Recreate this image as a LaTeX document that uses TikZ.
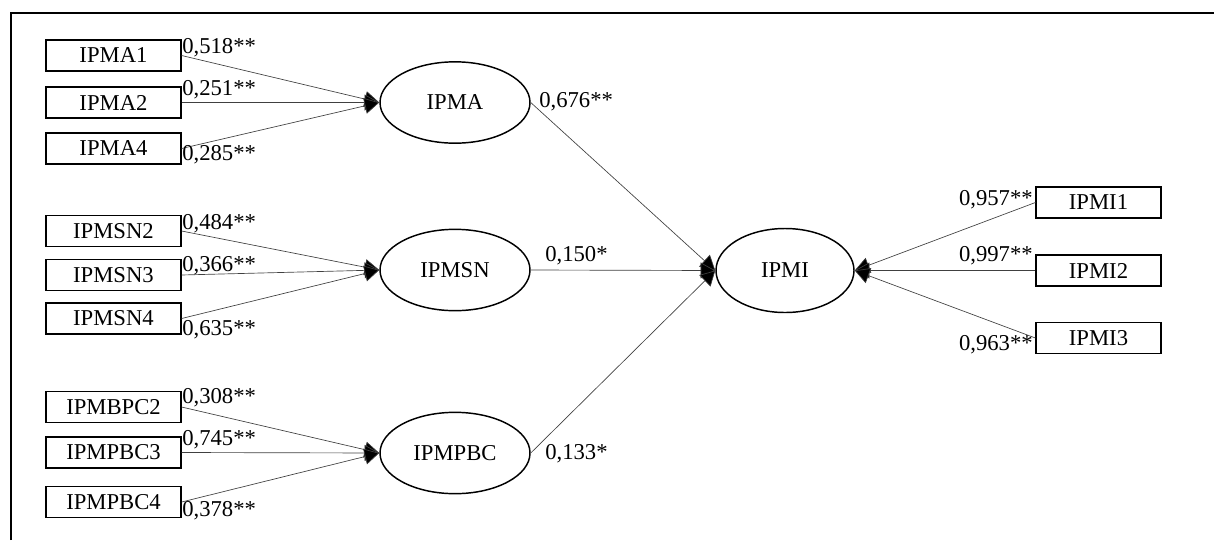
\documentclass[tikz,border=0pt]{standalone}
\usepackage{fontspec}
\setmainfont{Liberation Serif}
\usetikzlibrary{shapes.geometric,arrows.meta}
\begin{document}
\begin{tikzpicture}[x=0.75pt,y=-0.75pt,
  every node/.style={font=\fontsize{17}{20}\selectfont},
  ind/.style={draw,line width=0.9pt,rectangle,minimum width=101.25pt,minimum height=23.25pt,inner sep=0pt},
  indr/.style={draw,line width=0.9pt,rectangle,minimum width=93.75pt,minimum height=23.25pt,inner sep=0pt},
  lat/.style={draw,line width=1.1pt,ellipse,minimum width=112.5pt,minimum height=61pt,inner sep=0pt},
  latr/.style={draw,line width=1.1pt,ellipse,minimum width=103.5pt,minimum height=63pt,inner sep=0pt},
  conn/.style={draw=black!75,line width=0.5pt,-{Triangle[length=11pt,width=12pt,fill=black]}},
  lbl/.style={inner sep=0pt,anchor=west},
  lblr/.style={inner sep=0pt,anchor=east}]
\useasboundingbox (0,0) rectangle (1214,540);
\draw[line width=1.5pt] (11,540) -- (11,12.5) -- (1214,12.5);
% indicators left
\node[ind] (a1) at (113.5,55.5) {IPMA1};
\node[ind] (a2) at (113.5,102.5) {IPMA2};
\node[ind] (a4) at (113.5,148.5) {IPMA4};
\node[ind] (s2) at (113.5,231) {IPMSN2};
\node[ind] (s3) at (113.5,275) {IPMSN3};
\node[ind] (s4) at (113.5,318.5) {IPMSN4};
\node[ind] (p2) at (113.5,407) {IPMBPC2};
\node[ind] (p3) at (113.5,452.5) {IPMPBC3};
\node[ind] (p4) at (113.5,502) {IPMPBC4};
% latent
\node[lat] (ipma) at (455,102.5) {IPMA};
\node[lat] (ipmsn) at (455,270) {IPMSN};
\node[lat] (ipmpbc) at (455,453) {IPMPBC};
\node[latr] (ipmi) at (785,270.5) {IPMI};
% indicators right
\node[indr] (i1) at (1098.5,202.5) {IPMI1};
\node[indr] (i2) at (1098.5,270.5) {IPMI2};
\node[indr] (i3) at (1098.5,338) {IPMI3};
% connectors
\foreach \s in {a1,a2,a4} \draw[conn] (\s.east) -- (ipma.west);
\foreach \s in {s2,s3,s4} \draw[conn] (\s.east) -- (ipmsn.west);
\foreach \s in {p2,p3,p4} \draw[conn] (\s.east) -- (ipmpbc.west);
\foreach \s in {i1,i2,i3} \draw[conn] (\s.west) -- (ipmi.east);
\draw[conn] (ipma.east) -- (ipmi.west);
\draw[conn] (ipmsn.east) -- (ipmi.west);
\draw[conn] (ipmpbc.east) -- (ipmi.west);
% labels
\node[lbl] (la1) at (182,48) {0,518**};
\node[lbl] (la2) at (182,90) {0,251**};
\node[lbl] (la4) at (182,155) {0,285**};
\node[lbl] (ls2) at (182,224) {0,484**};
\node[lbl] (ls3) at (182,266) {0,366**};
\node[lbl] (ls4) at (182,330) {0,635**};
\node[lbl] (lp2) at (182,398) {0,308**};
\node[lbl] (lp3) at (182,440) {0,745**};
\node[lbl] (lp4) at (182,511) {0,378**};
\node[lbl] (lma) at (539,102) {0,676**};
\node[lbl] (lsn) at (545,256) {0,150*};
\node[lbl] (lpb) at (545,454) {0,133*};
\node[lblr] (li1) at (1033,200) {0,957**};
\node[lblr] (li2) at (1033,256) {0,997**};
\node[lblr] (li3) at (1033,345) {0,963**};
\end{tikzpicture}
\end{document}
